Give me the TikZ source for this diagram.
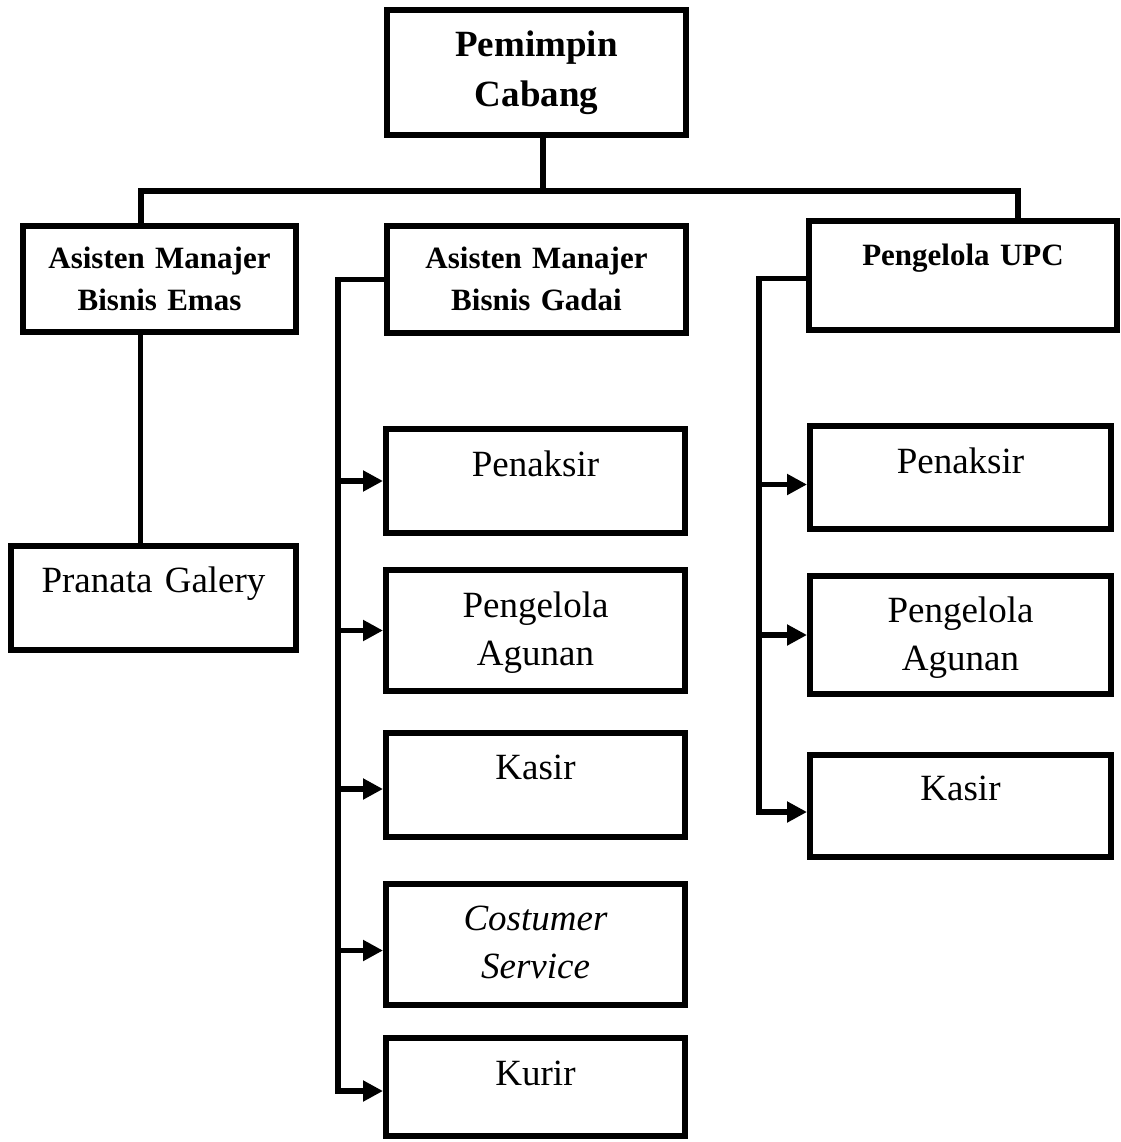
\documentclass[tikz,border=0pt]{standalone}
\usepackage{fontspec}
\usepackage{tikz}
\usetikzlibrary{arrows.meta, positioning, calc}
\setmainfont{Liberation Serif}

\tikzset{
  box/.style={draw, line width=6pt, inner sep=0pt, align=center, anchor=north},
  conn/.style={line width=5.5pt},
  arr/.style={conn, -{Triangle[length=20pt, width=20pt]}},
  big/.style={font=\fontsize{37}{48}\selectfont},
  head/.style={font=\bfseries\fontsize{31}{42}\selectfont}
}

\begin{document}
\begin{tikzpicture}[x=1pt, y=-1pt]
  \useasboundingbox (0,0) rectangle (1120,1142);

  % Pimpinan
  \node[box, text width=299pt, text height=47pt, text depth=78pt,
        font=\bfseries\fontsize{37}{50}\selectfont] (pinca) at (536.5,7) {Pemimpin\\Cabang};

  % Tingkat kedua
  \node[box, head, text width=273pt, text height=42pt, text depth=64pt] (emas) at (159.5,223) {Asisten Manajer\\Bisnis Emas};
  \node[box, head, text width=299pt, text height=42pt, text depth=65pt] (gadai) at (536.5,223) {Asisten Manajer\\Bisnis Gadai};
  \node[box, head, text width=308pt, text height=44pt, text depth=65pt] (upc) at (963,218) {Pengelola UPC};

  % Bawah Bisnis Emas
  \node[box, big, text width=285pt, text height=46pt, text depth=58pt] (galery) at (153.5,543) {Pranata Galery};

  % Bawah Bisnis Gadai
  \node[box, big, text width=299pt, text height=47pt, text depth=57pt] (penA) at (535.5,426) {Penaksir};
  \node[box, big, text width=299pt, text height=47pt, text depth=74pt] (agunA) at (535.5,567) {Pengelola\\Agunan};
  \node[box, big, text width=299pt, text height=46pt, text depth=58pt] (kasA) at (535.5,730) {Kasir};
  \node[box, big, text width=299pt, text height=46pt, text depth=75pt] (cs) at (535.5,881) {\itshape Costumer\\\itshape Service};
  \node[box, big, text width=299pt, text height=47pt, text depth=51pt] (kurir) at (535.5,1035) {Kurir};

  % Bawah UPC
  \node[box, big, text width=301pt, text height=47pt, text depth=56pt] (penB) at (960.5,423) {Penaksir};
  \node[box, big, text width=301pt, text height=46pt, text depth=72pt] (agunB) at (960.5,573) {Pengelola\\Agunan};
  \node[box, big, text width=301pt, text height=45pt, text depth=57pt] (kasB) at (960.5,752) {Kasir};

  % Garis dari pimpinan
  \coordinate (bus) at (543,191);
  \coordinate (busL) at (141,191);
  \coordinate (busR) at (1018,191);
  \draw[conn] (pinca.south -| bus) -- (bus);
  \draw[conn] (busL |- emas.north) -- (busL) -- (busR) -- (busR |- upc.north);
  \draw[conn] ([xshift=-19pt]emas.south) -- ([xshift=-13pt]galery.north);

  % Garis Bisnis Gadai
  \coordinate (spineA) at (338,0);
  \draw[arr] (gadai.west) -| ([yshift=-4pt]spineA |- kurir.west) -- ([yshift=-4pt]kurir.west);
  \draw[arr] (spineA |- penA.west) -- (penA.west);
  \draw[arr] (spineA |- agunA.west) -- (agunA.west);
  \draw[arr] ([yshift=-4pt]spineA |- kasA.west) -- ([yshift=-4pt]kasA.west);
  \draw[arr] ([yshift=-6pt]spineA |- cs.west) -- ([yshift=-6pt]cs.west);

  % Garis UPC
  \coordinate (spineB) at (759,0);
  \draw[arr] ([yshift=-3pt]upc.west) -| ([yshift=-6pt]spineB |- kasB.west) -- ([yshift=-6pt]kasB.west);
  \draw[arr] ([yshift=-7pt]spineB |- penB.west) -- ([yshift=-7pt]penB.west);
  \draw[arr] (spineB |- agunB.west) -- (agunB.west);
\end{tikzpicture}
\end{document}
